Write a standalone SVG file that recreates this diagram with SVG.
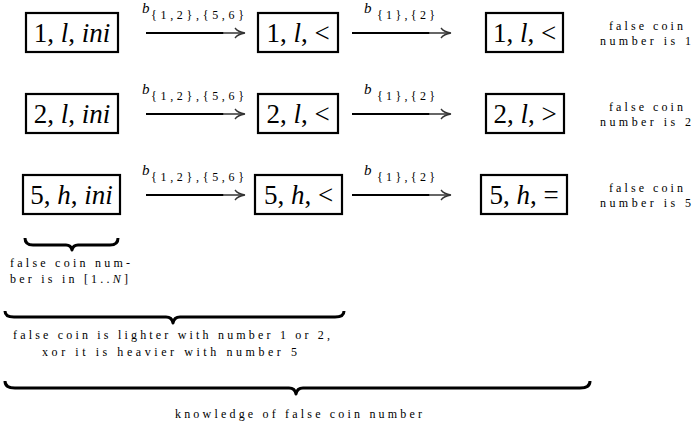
<svg xmlns="http://www.w3.org/2000/svg" width="692" height="427" viewBox="0 0 692 427">
<style>
.box{fill:#fff;stroke:#000;stroke-width:2.2}
.m{font-family:"Liberation Serif",serif;font-size:27px;fill:#000}
.i{font-style:italic}
.lb{font-family:"Liberation Serif",serif;font-size:15px;font-style:italic;fill:#000}
.sb{font-family:"Liberation Serif",serif;font-size:12px;fill:#000}
.cap{font-family:"Liberation Serif",serif;font-size:12px;fill:#000}
.ln{stroke:#000;stroke-width:1.8;fill:none}
.lg{stroke:#555;stroke-width:1.8;fill:none}
.hd{stroke:#333;stroke-width:1.3;fill:none}
.br{stroke:#000;stroke-width:3;fill:none;stroke-linejoin:round}
</style>
<defs>
<g id="arr">
<line class="ln" x1="0" y1="0" x2="78" y2="0"/>
<line class="lg" x1="77" y1="0" x2="98" y2="0"/>
<path class="hd" d="M89 -5 Q92 -1 99 0 Q92 1 89 5"/>
</g>
</defs>
<g id="connectors">
<use href="#arr" x="146" y="33"/>
<use href="#arr" x="352" y="33"/>
<use href="#arr" x="146" y="114"/>
<use href="#arr" x="352" y="114"/>
<use href="#arr" x="146" y="195"/>
<use href="#arr" x="352" y="195"/>
<text class="lb" x="142" y="13">b</text><text class="sb" x="151" y="19" textLength="93" lengthAdjust="spacing">{1,2},{5,6}</text>
<text class="lb" x="364" y="13">b</text><text class="sb" x="377" y="19" textLength="58" lengthAdjust="spacing">{1},{2}</text>
<text class="lb" x="142" y="94">b</text><text class="sb" x="151" y="100" textLength="93" lengthAdjust="spacing">{1,2},{5,6}</text>
<text class="lb" x="364" y="94">b</text><text class="sb" x="377" y="100" textLength="58" lengthAdjust="spacing">{1},{2}</text>
<text class="lb" x="142" y="175">b</text><text class="sb" x="151" y="181" textLength="93" lengthAdjust="spacing">{1,2},{5,6}</text>
<text class="lb" x="364" y="175">b</text><text class="sb" x="377" y="181" textLength="58" lengthAdjust="spacing">{1},{2}</text>
</g>
<g id="n1ini"><rect class="box" x="26" y="13" width="92" height="39"/><text class="m" x="72" y="42" text-anchor="middle">1, <tspan class="i">l</tspan>, <tspan class="i">ini</tspan></text></g>
<g id="n1lt"><rect class="box" x="258" y="13" width="80" height="39"/><text class="m" x="298" y="42" text-anchor="middle">1, <tspan class="i">l</tspan>, &lt;</text></g>
<g id="n1lt2"><rect class="box" x="486" y="13" width="77" height="39"/><text class="m" x="524.5" y="42" text-anchor="middle">1, <tspan class="i">l</tspan>, &lt;</text></g>
<g id="n2ini"><rect class="box" x="26" y="94" width="92" height="39"/><text class="m" x="72" y="123" text-anchor="middle">2, <tspan class="i">l</tspan>, <tspan class="i">ini</tspan></text></g>
<g id="n2lt"><rect class="box" x="258" y="94" width="80" height="39"/><text class="m" x="298" y="123" text-anchor="middle">2, <tspan class="i">l</tspan>, &lt;</text></g>
<g id="n2gt"><rect class="box" x="486" y="94" width="78" height="39"/><text class="m" x="525" y="123" text-anchor="middle">2, <tspan class="i">l</tspan>, &gt;</text></g>
<g id="n5ini"><rect class="box" x="23" y="175" width="97" height="39"/><text class="m" x="71.5" y="204" text-anchor="middle">5, <tspan class="i">h</tspan>, <tspan class="i">ini</tspan></text></g>
<g id="n5lt"><rect class="box" x="255" y="175" width="87" height="39"/><text class="m" x="298.5" y="204" text-anchor="middle">5, <tspan class="i">h</tspan>, &lt;</text></g>
<g id="n5eq"><rect class="box" x="481" y="175" width="86" height="39"/><text class="m" x="524" y="204" text-anchor="middle">5, <tspan class="i">h</tspan>, =</text></g>
<g id="notes">
<text class="cap" x="609" y="30" textLength="74" lengthAdjust="spacing">false coin</text>
<text class="cap" x="600" y="45" textLength="91" lengthAdjust="spacing">number is 1</text>
<text class="cap" x="609" y="111" textLength="74" lengthAdjust="spacing">false coin</text>
<text class="cap" x="600" y="126" textLength="91" lengthAdjust="spacing">number is 2</text>
<text class="cap" x="609" y="192" textLength="74" lengthAdjust="spacing">false coin</text>
<text class="cap" x="600" y="207" textLength="91" lengthAdjust="spacing">number is 5</text>
</g>
<g id="brace1">
<path class="br" d="M25 238 Q25 245 33 245 L66 245 Q71 245 72 250 Q73 245 78 245 L110 245 Q118 245 118 238"/>
<text class="cap" x="10" y="267" textLength="120" lengthAdjust="spacing">false coin num-</text>
<text class="cap" x="10" y="283" textLength="118" lengthAdjust="spacing">ber is in [1..<tspan class="i">N</tspan>]</text>
</g>
<g id="brace2">
<path class="br" d="M5 311 Q5 317 14 317 L166 317 Q172 317 173 323 Q174 317 180 317 L335 317 Q344 317 344 311"/>
<text class="cap" x="13" y="339" textLength="317" lengthAdjust="spacing">false coin is lighter with number 1 or 2,</text>
<text class="cap" x="42" y="356" textLength="255" lengthAdjust="spacing">xor it is heavier with number 5</text>
</g>
<g id="brace3">
<path class="br" d="M5 381 Q5 388 15 388 L289 388 Q295 388 296 394 Q297 388 303 388 L580 388 Q590 388 590 381"/>
<text class="cap" x="175" y="418" textLength="247" lengthAdjust="spacing">knowledge of false coin number</text>
</g>
</svg>
